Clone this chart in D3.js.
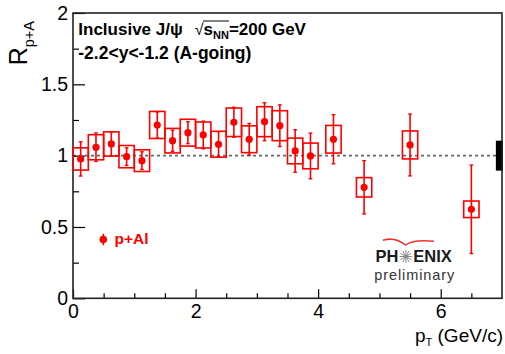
<!DOCTYPE html>
<html><head><meta charset="utf-8">
<script src="https://cdn.jsdelivr.net/npm/d3@7"></script>
<style>
body{margin:0;background:#fff}
svg{display:block}
text{font-family:"Liberation Sans",Arial,Helvetica,sans-serif}
</style>
</head><body>
<svg id="c" width="505" height="354"></svg>
<script>
// ---- data ----
const ptCenters = [0.125,0.375,0.625,0.875,1.125,1.375,1.625,1.875,2.125,2.375,2.625,2.875,3.125,3.375,3.625,3.875,4.25,4.75,5.5,6.5];
const rpA       = [0.977,1.059,1.082,0.993,0.965,1.215,1.105,1.161,1.145,1.080,1.234,1.115,1.238,1.210,1.033,0.998,1.115,0.778,1.075,0.624];
const statErr   = [0.120,0.100,0.084,0.062,0.062,0.091,0.074,0.077,0.097,0.088,0.105,0.111,0.133,0.146,0.149,0.160,0.172,0.187,0.217,0.310];
const sysErr    = [0.078,0.088,0.085,0.078,0.076,0.095,0.086,0.094,0.091,0.091,0.100,0.094,0.105,0.105,0.090,0.090,0.097,0.068,0.098,0.058];
const sysHalfWidth = 0.125;      // half width of systematic boxes (GeV/c)
const globalSys = 0.105;         // global normalisation uncertainty
const globalBox = [6.9, 7.0];    // x extent of global box
const xMajorTicks = [0,2,4,6];
const xMinorTicks = [0.5,1,1.5,2.5,3,3.5,4.5,5,5.5,6.5];
const yMajorTicks = [0,0.5,1,1.5,2];
const yMinorTicks = [0.25,0.75,1.25,1.75];
const xDomain = [0,7];
const yDomain = [0,2];
const seriesName = "p+Al";

// ---- layout ----
const svg = d3.select("#c");
const L = 73, R = 502, T = 13, B = 298.3;
const x = d3.scaleLinear().domain(xDomain).range([L,R]);
const y = d3.scaleLinear().domain(yDomain).range([B,T]);
const red = "#ff0000";

// unity line
svg.append("line")
  .attr("x1", x(xDomain[0])).attr("x2", x(xDomain[1]))
  .attr("y1", y(1)).attr("y2", y(1))
  .attr("stroke","#666").attr("stroke-width",1.8).attr("stroke-dasharray","3,3");

// global box
svg.append("rect")
  .attr("x", x(globalBox[0])).attr("width", x(globalBox[1]) - x(globalBox[0]) + 1)
  .attr("y", y(1+globalSys)).attr("height", y(1-globalSys) - y(1+globalSys))
  .attr("fill","#000");

// axes: major + minor ticks inward
function styleAxis(g){
  g.select(".domain").remove();
  g.selectAll(".tick line").attr("stroke","#000").attr("stroke-width",1.2);
  g.selectAll(".tick text").attr("fill","#000").attr("font-size",19.5);
}
svg.append("g").attr("transform",`translate(0,${B})`)
  .call(d3.axisBottom(x).tickValues(xMajorTicks).tickSizeInner(-9).tickSizeOuter(0).tickPadding(6).tickFormat(d3.format("d")))
  .call(styleAxis);
svg.append("g").attr("transform",`translate(0,${B})`)
  .call(d3.axisBottom(x).tickValues(xMinorTicks).tickSizeInner(-5).tickSizeOuter(0).tickFormat(""))
  .call(styleAxis);
svg.append("g").attr("transform",`translate(${L},0)`)
  .call(d3.axisLeft(y).tickValues(yMajorTicks).tickSizeInner(-12).tickSizeOuter(0).tickPadding(5).tickFormat(d => d3.format("")(d)))
  .call(styleAxis);
svg.append("g").attr("transform",`translate(${L},0)`)
  .call(d3.axisLeft(y).tickValues(yMinorTicks).tickSizeInner(-6).tickSizeOuter(0).tickFormat(""))
  .call(styleAxis);

// frame
svg.append("rect").attr("x",L).attr("y",T).attr("width",R-L).attr("height",B-T)
  .attr("fill","none").attr("stroke","#222").attr("stroke-width",1.6);

// data
const data = ptCenters.map((p,i)=>({p, v:rpA[i], s:statErr[i], sy:sysErr[i]}));
const pts = svg.append("g");
pts.selectAll("rect.sys").data(data).join("rect").attr("class","sys")
  .attr("x", d=>x(d.p - sysHalfWidth)).attr("width", d=>x(d.p + sysHalfWidth) - x(d.p - sysHalfWidth))
  .attr("y", d=>y(d.v + d.sy)).attr("height", d=>y(d.v - d.sy) - y(d.v + d.sy))
  .attr("fill","none").attr("stroke",red).attr("stroke-width",1.6);
pts.selectAll("line.stat").data(data).join("line").attr("class","stat")
  .attr("x1", d=>x(d.p)).attr("x2", d=>x(d.p))
  .attr("y1", d=>y(d.v + d.s)).attr("y2", d=>y(d.v - d.s))
  .attr("stroke",red).attr("stroke-width",1.6);
pts.selectAll("line.capT").data(data).join("line").attr("class","capT")
  .attr("x1", d=>x(d.p)-1.8).attr("x2", d=>x(d.p)+1.8)
  .attr("y1", d=>y(d.v + d.s)).attr("y2", d=>y(d.v + d.s))
  .attr("stroke",red).attr("stroke-width",1.4);
pts.selectAll("line.capB").data(data).join("line").attr("class","capB")
  .attr("x1", d=>x(d.p)-1.8).attr("x2", d=>x(d.p)+1.8)
  .attr("y1", d=>y(d.v - d.s)).attr("y2", d=>y(d.v - d.s))
  .attr("stroke",red).attr("stroke-width",1.4);
pts.selectAll("circle").data(data).join("circle")
  .attr("cx", d=>x(d.p)).attr("cy", d=>y(d.v)).attr("r",3.6).attr("fill",red);

// legend
svg.append("line").attr("x1",103.3).attr("x2",103.3).attr("y1",233.8).attr("y2",245.2)
  .attr("stroke",red).attr("stroke-width",1.6);
svg.append("circle").attr("cx",103.3).attr("cy",239.5).attr("r",3.8).attr("fill",red);
svg.append("text").attr("x",114.5).attr("y",244.3).attr("font-size",15.5).attr("font-weight","bold")
  .attr("fill",red).text(seriesName);

// header text (flowed left to right)
let cx = 78.3;
const hy = 34.5;
function piece(str, opts){
  const t = svg.append("text").attr("x",cx).attr("y",hy + (opts.dy||0))
    .attr("font-size",opts.size||17).attr("font-weight",opts.weight||"bold").attr("fill","#000").text(str);
  const w = t.node().getComputedTextLength();
  const x0 = cx; cx += w + (opts.gap||0);
  return [x0, cx];
}
piece("Inclusive J/ψ", {gap:12});
const sq = piece("√", {weight:"normal", size:16, gap:0});
const sStart = sq[1];
piece("s", {});
const nn = piece("NN", {size:11, dy:4.5});
piece("=200 GeV", {});
svg.append("line").attr("x1",sStart-0.5).attr("x2",nn[1]).attr("y1",21).attr("y2",21)
  .attr("stroke","#000").attr("stroke-width",1);
svg.append("text").attr("x",78.3).attr("y",58.5).attr("font-size",17.5).attr("font-weight","bold")
  .attr("fill","#000").text("-2.2<y<-1.2 (A-going)");

// y-axis title
const yt = svg.append("text").attr("transform","translate(27,21) rotate(-90)")
  .attr("text-anchor","end").attr("fill","#000");
yt.append("tspan").attr("font-size",25).text("R");
yt.append("tspan").attr("font-size",14.5).attr("dy",7).text("p+A");

// x-axis title
const xt = svg.append("text").attr("x",503).attr("y",341.7).attr("text-anchor","end").attr("fill","#000");
xt.append("tspan").attr("font-size",19).text("p");
xt.append("tspan").attr("font-size",11).attr("dy",4).text("T");
xt.append("tspan").attr("font-size",19).attr("dy",-4).text("  (GeV/c)");

// PHENIX preliminary logo
const logo = svg.append("g");
logo.append("path").attr("d","M383,240.3 Q395,236.5 405.5,245 Q414,239 434,241.3")
  .attr("fill","none").attr("stroke","#e33").attr("stroke-width",1.5);
const ph = logo.append("text").attr("x",375.5).attr("y",262.3).attr("font-size",16.5)
  .attr("font-weight","bold").attr("fill","#1a1a1a").text("PH");
const phW = ph.node().getComputedTextLength();
const starC = [375.5 + phW + 7.5, 256.5];
for (let k=0;k<12;k++){
  const a = k*Math.PI/6;
  logo.append("line").attr("x1",starC[0]).attr("y1",starC[1])
    .attr("x2",starC[0]+6.3*Math.cos(a)).attr("y2",starC[1]+6.3*Math.sin(a))
    .attr("stroke","#888").attr("stroke-width",1);
}
logo.append("text").attr("x",starC[0]+7.3).attr("y",262.3).attr("font-size",16.5)
  .attr("font-weight","bold").attr("fill","#1a1a1a").text("ENIX");
logo.append("text").attr("x",374.3).attr("y",279.5).attr("font-size",14.5)
  .attr("letter-spacing",0.9).attr("fill","#333").text("preliminary");
</script>
</body></html>
